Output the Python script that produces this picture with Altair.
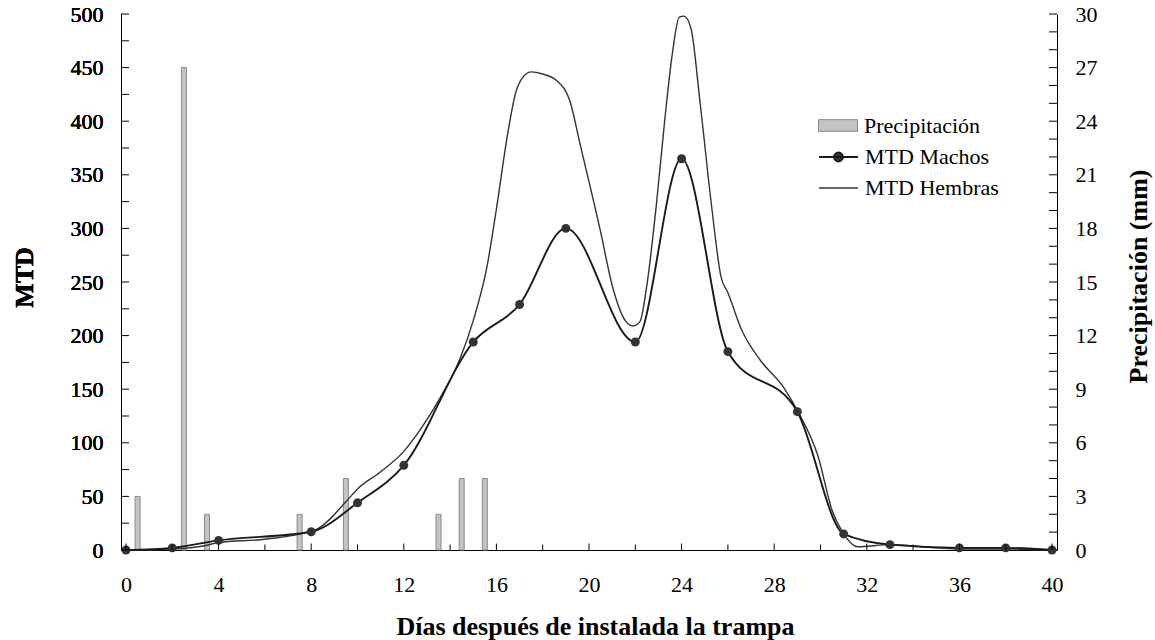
import altair as alt
import pandas as pd

# --- data -------------------------------------------------------------
# MTD of males: one marker per sampling day
dias_machos = [0, 2, 4, 8, 10, 12, 15, 17, 19, 22, 24, 26, 29, 31, 33, 36, 38, 40]
mtd_machos = [0, 2, 9, 17, 44, 79, 194, 229, 300, 194, 365, 185, 129, 15, 5, 2, 2, 0]

# MTD of females: smooth curve without markers
dias_hembras = [0, 2, 3.4, 4, 6, 8.2, 9.5, 10, 11, 12, 12.8, 13.6, 14.4, 15, 15.6,
                16, 16.5, 16.85, 17.05, 17.5, 18, 18.6, 19.2, 19.6, 20.5, 21,
                21.6, 21.9, 22.2, 22.5, 22.9, 23.3, 23.6, 23.9, 24.1, 24.4, 24.8,
                25.3, 25.7, 26, 26.6, 27.4, 28.4, 29, 29.9, 30.5, 31, 31.6, 33, 36,
                38, 40]
mtd_hembras = [0, 1, 4, 7, 10, 19, 45, 57, 73, 92, 115, 143, 177, 214, 265,
               318, 390, 428, 438, 446, 444, 438, 417, 380, 297, 247,
               213, 209, 213, 247, 320, 407, 463, 497, 498, 487, 417,
               320, 255, 240, 205, 177, 152, 130, 87, 37, 15, 3, 5, 1,
               1, 0]

# daily rainfall (mm)
dias_lluvia = [0.5, 2.5, 3.5, 7.5, 9.5, 13.5, 14.5, 15.5]
precipitacion = [3, 27, 2, 2, 4, 2, 4, 4]

# axis tick positions
ticks_x = list(range(0, 41, 2))
ticks_mtd = list(range(0, 501, 25))
ticks_pp = list(range(0, 31, 1))
labels_x = list(range(0, 41, 4))
labels_mtd = list(range(0, 501, 50))
labels_pp = list(range(0, 31, 3))

# --- layout -----------------------------------------------------------
W, H = 936, 536
FONT = "Liberation Serif"
INK = "#1a1a1a"

machos = pd.DataFrame({"dia": dias_machos, "mtd": mtd_machos, "serie": "MTD Machos"})
hembras = pd.DataFrame({"dia": dias_hembras, "mtd": mtd_hembras, "serie": "MTD Hembras"})
lluvia = pd.DataFrame({"dia": dias_lluvia, "mm": precipitacion, "serie": "Precipitación"})
tx = pd.DataFrame({"t": ticks_x, "major": [t % 4 == 0 for t in ticks_x]})
tm = pd.DataFrame({"t": ticks_mtd})
tp = pd.DataFrame({"t": ticks_pp})

x_scale = alt.Scale(domain=[0, 40], nice=False, zero=False)
y_scale = alt.Scale(domain=[0, 500], nice=False)
pp_scale = alt.Scale(domain=[0, 30], nice=False)

common = dict(labelFont=FONT, labelFontSize=22, labelColor="black",
              domainColor="black", domainWidth=1, grid=False, ticks=False,
              tickSize=0, labelFlush=False, labelOverlap=False,
              titleFont=FONT, titleFontSize=26, titleFontWeight="bold",
              titleColor="black", titleAlign="center",
              titleBaseline="alphabetic")

x_axis = alt.Axis(values=labels_x, format="d", labelPadding=24,
                  title="Días después de instalada la trampa",
                  titleX=474, titleY=84, titleAngle=0, **common)
y_axis = alt.Axis(values=labels_mtd, format="d", orient="left", labelPadding=18,
                  title="MTD", titleX=-89, titleY=263, titleAngle=270, **common)
pp_axis = alt.Axis(values=labels_pp, format="d", orient="right", labelPadding=18,
                   title="Precipitación (mm)", titleX=89, titleY=262,
                   titleAngle=270, **common)

X = lambda f: alt.X(f, type="quantitative", scale=x_scale, axis=x_axis)
Y = lambda f: alt.Y(f, type="quantitative", scale=y_scale, axis=y_axis)
YP = lambda f: alt.Y(f, type="quantitative", scale=pp_scale, axis=pp_axis)

legend_common = dict(title=None, orient="none", padding=0, labelFont=FONT,
                     labelFontSize=22, labelColor="black", labelOffset=6,
                     symbolSize=1521, legendX=697)

RECT = "M-1,-0.3H1V0.3H-1Z"
DOT_LINE = ("M-1,0H1M0.23,0A0.23,0.23,0,1,1,-0.23,0"
            "A0.23,0.23,0,1,1,0.23,0Z")

# --- rainfall (right axis) ----------------------------------------------
bars = alt.Chart(lluvia).mark_bar(size=5, stroke="#8a8a8a", strokeWidth=1).encode(
    x=X("dia"),
    y=YP("mm"),
    color=alt.Color("serie:N",
                    scale=alt.Scale(domain=["Precipitación"], range=["#c4c4c4"]),
                    legend=alt.Legend(symbolType=RECT, legendY=91.5,
                                      symbolStrokeColor="#8a8a8a",
                                      symbolStrokeWidth=1, **legend_common)),
)
pp_ticks = alt.Chart(tp).mark_rule(color="black", strokeWidth=1).encode(
    y=YP("t"), x=alt.value(W - 8), x2=alt.value(W)
)
pp_layer = alt.layer(bars, pp_ticks)

# --- MTD curves (left axis) -------------------------------------------
hembras_line = alt.Chart(hembras).mark_line(interpolate="monotone", strokeWidth=1.4).encode(
    x=X("dia"),
    y=Y("mtd"),
    color=alt.Color("serie:N",
                    scale=alt.Scale(domain=["MTD Hembras"], range=["#333333"]),
                    legend=alt.Legend(symbolType="stroke", legendY=153.5,
                                      symbolStrokeWidth=1.4, **legend_common)),
)
machos_line = alt.Chart(machos).mark_line(interpolate="monotone", strokeWidth=1.9).encode(
    x=X("dia"),
    y=Y("mtd"),
    color=alt.Color("serie:N",
                    scale=alt.Scale(domain=["MTD Machos"], range=[INK]),
                    legend=None),
)
machos_pts = alt.Chart(machos).mark_point(filled=True, size=80, opacity=1).encode(
    x=X("dia"),
    y=Y("mtd"),
    color=alt.Color("serie:N",
                    scale=alt.Scale(domain=["MTD Machos"], range=["#333333"]),
                    legend=alt.Legend(symbolType=DOT_LINE, legendY=122.5,
                                      symbolStrokeColor=INK,
                                      symbolStrokeWidth=1.8, **legend_common)),
)
mtd_ticks = alt.Chart(tm).mark_rule(color="black", strokeWidth=1).encode(
    y=Y("t"), x=alt.value(0), x2=alt.value(8)
)
x_ticks = alt.Chart(tx).mark_rule(color="black", strokeWidth=1).encode(
    x=X("t"),
    y=alt.Y("major:N", scale=alt.Scale(domain=[True, False], range=[H - 7, H - 5]),
            axis=None),
    y2=alt.value(H),
)
mtd_layer = alt.layer(hembras_line, machos_line, machos_pts, mtd_ticks, x_ticks).resolve_scale(
    color="independent", y="shared"
)

chart = alt.layer(pp_layer, mtd_layer).resolve_scale(
    y="independent", color="independent"
).properties(
    width=W,
    height=H,
    autosize=alt.AutoSizeParams(type="none"),
    padding={"left": 121, "top": 14, "right": 98, "bottom": 90},
    background="white",
).configure(
    font=FONT
).configure_axis(
    labelFont=FONT, titleFont=FONT
).configure_legend(
    labelFont=FONT
).configure_view(stroke=None)

chart.save("out.html", embed_options={"renderer": "svg", "actions": False})
